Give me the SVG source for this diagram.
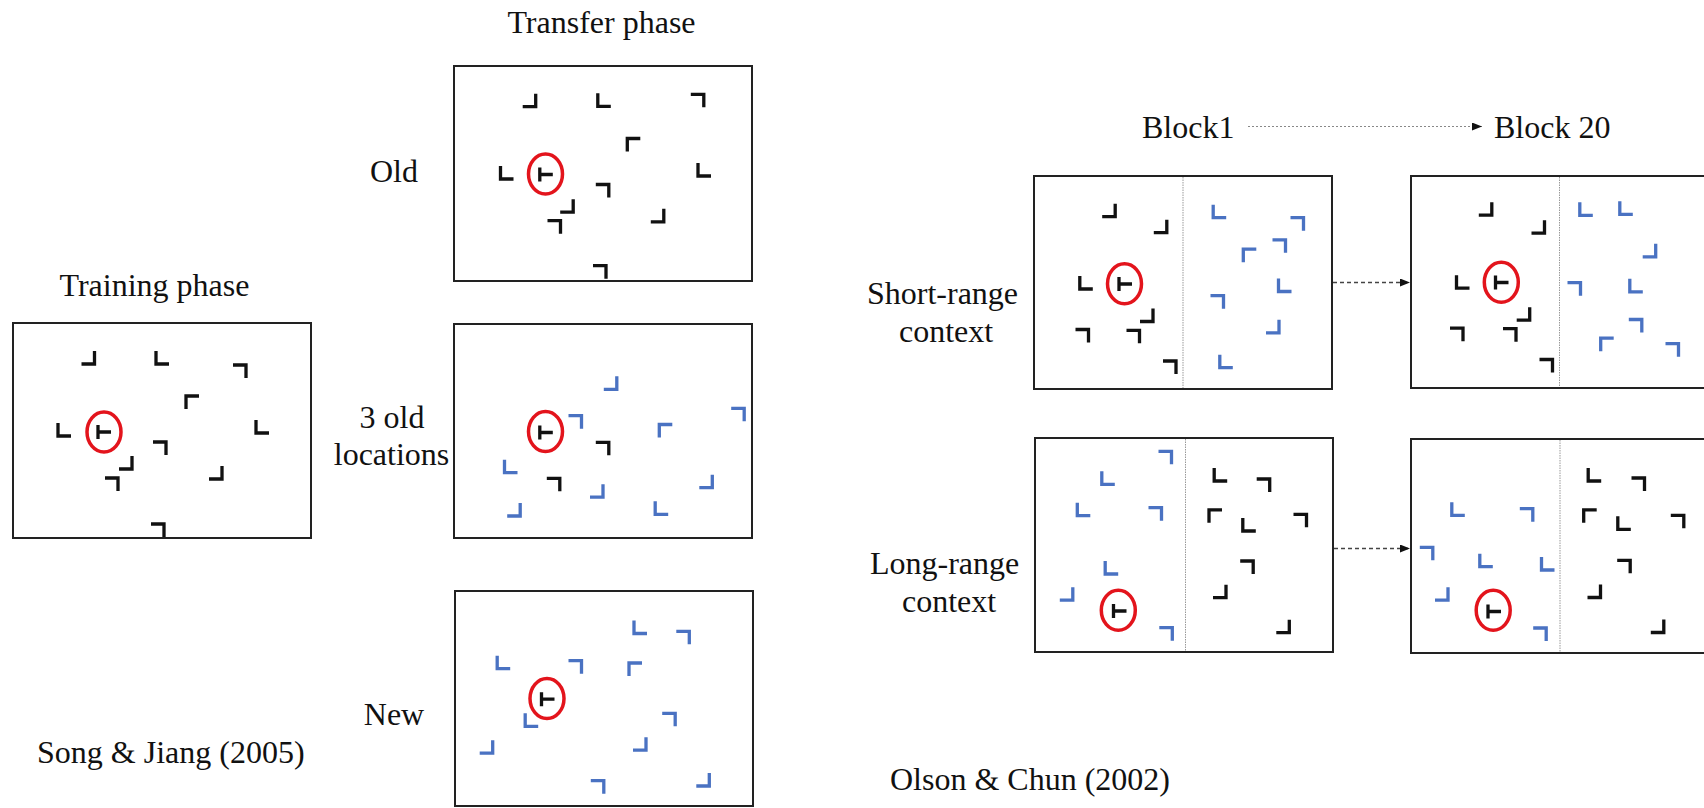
<svg xmlns="http://www.w3.org/2000/svg" xmlns:xlink="http://www.w3.org/1999/xlink" width="1704" height="808" viewBox="0 0 1704 808">
  <style>
    text { font-family: "Liberation Serif", "Times New Roman", serif; font-size: 32px; fill: #111; }
    .box { fill: #fff; stroke: #222; stroke-width: 2; }
    .div { stroke: #999; stroke-width: 1; stroke-dasharray: 1.5 1; }
    .k { stroke: #111; }
    .b { stroke: #4a72c2; }
    .ring { fill: none; stroke: #e3141c; stroke-width: 3.5; }
    .go { fill: none; stroke: #444; stroke-width: 1.4; stroke-dasharray: 4 3; }
    .dots { fill: none; stroke: #888; stroke-width: 1.2; stroke-dasharray: 2 2; }
  </style>
  <defs>
    <!-- rotated L items, centred on (0,0); colour comes from the <use> -->
    <path id="br" d="M-7,6 H6 V-7" fill="none" stroke-width="3.3"/>
    <path id="bl" d="M-6,-7 V6 H7" fill="none" stroke-width="3.3"/>
    <path id="tr" d="M-7,-6 H6 V7" fill="none" stroke-width="3.3"/>
    <path id="tl" d="M7,-6 H-6 V7" fill="none" stroke-width="3.3"/>
    <path id="tee" d="M-6,-7 V7 M-6,0 H7" fill="none" stroke-width="3.3"/>
    <marker id="head" markerUnits="userSpaceOnUse" markerWidth="11" markerHeight="8" refX="10" refY="4" orient="auto">
      <path d="M0,0 L10,4 L0,8 z" fill="#111"/>
    </marker>
  </defs>

  <!-- headings and captions -->
  <g id="labels">
    <text x="154.5" y="296" text-anchor="middle">Training phase</text>
    <text x="601.5" y="33" text-anchor="middle">Transfer phase</text>
    <text x="394" y="182" text-anchor="middle">Old</text>
    <text x="392" y="428" text-anchor="middle">3 old</text>
    <text x="391.5" y="465" text-anchor="middle">locations</text>
    <text x="394" y="725" text-anchor="middle">New</text>
    <text x="37" y="763">Song &amp; Jiang (2005)</text>
    <text x="1142" y="138">Block1</text>
    <text x="1494" y="138">Block 20</text>
    <text x="867" y="304">Short-range</text>
    <text x="899" y="342">context</text>
    <text x="870" y="574">Long-range</text>
    <text x="902" y="612">context</text>
    <text x="1030" y="790" text-anchor="middle">Olson &amp; Chun (2002)</text>
  </g>

  <!-- Song & Jiang: training display -->
  <g id="training">
    <rect class="box" x="13" y="323" width="298" height="215"/>
    <g class="k">
      <use href="#br" x="88.5" y="358"/>
      <use href="#bl" x="162" y="358"/>
      <use href="#tr" x="240" y="371"/>
      <use href="#tl" x="192" y="402"/>
      <use href="#bl" x="64" y="430"/>
      <use href="#tee" x="104" y="432"/>
      <use href="#bl" x="262" y="427"/>
      <use href="#tr" x="160" y="448"/>
      <use href="#br" x="126" y="463"/>
      <use href="#tr" x="112" y="484"/>
      <use href="#br" x="216" y="473"/>
      <use href="#tr" x="158" y="530"/>
    </g>
    <ellipse class="ring" cx="104" cy="432" rx="17" ry="20"/>
  </g>

  <!-- transfer: old configuration -->
  <g id="transfer-old">
    <rect class="box" x="454" y="66" width="298" height="215"/>
    <g class="k">
      <use href="#br" x="529.7" y="100.7"/>
      <use href="#bl" x="603.8" y="100.3"/>
      <use href="#tr" x="697.8" y="100.3"/>
      <use href="#tl" x="633.3" y="144.5"/>
      <use href="#bl" x="506.5" y="173"/>
      <use href="#tee" x="545.8" y="174.5"/>
      <use href="#bl" x="704" y="170"/>
      <use href="#tr" x="602.8" y="190.5"/>
      <use href="#br" x="567.2" y="206.2"/>
      <use href="#tr" x="554.5" y="226.7"/>
      <use href="#br" x="657.8" y="215.8"/>
      <use href="#tr" x="600" y="271.7"/>
    </g>
    <ellipse class="ring" cx="545.5" cy="174" rx="17" ry="20"/>
  </g>

  <!-- transfer: three old locations -->
  <g id="transfer-3old">
    <rect class="box" x="454" y="324" width="298" height="214"/>
    <g class="b">
      <use href="#br" x="610.8" y="383.3"/>
      <use href="#tr" x="575.5" y="421.7"/>
      <use href="#tl" x="665.3" y="430.5"/>
      <use href="#tr" x="738.2" y="414.3"/>
      <use href="#bl" x="510.5" y="466.7"/>
      <use href="#br" x="597" y="491.2"/>
      <use href="#br" x="706.3" y="481.7"/>
      <use href="#br" x="514.2" y="510"/>
      <use href="#bl" x="661.2" y="508.3"/>
    </g>
    <g class="k">
      <use href="#tee" x="545.8" y="432.5"/>
      <use href="#tr" x="602.8" y="448.3"/>
      <use href="#tr" x="553.8" y="484.3"/>
    </g>
    <ellipse class="ring" cx="545.5" cy="431.5" rx="17" ry="20"/>
  </g>

  <!-- transfer: new configuration -->
  <g id="transfer-new">
    <rect class="box" x="455" y="591" width="298" height="215"/>
    <g class="b">
      <use href="#bl" x="640" y="627.5"/>
      <use href="#tr" x="683.3" y="637.3"/>
      <use href="#bl" x="503.2" y="662.7"/>
      <use href="#tr" x="575.5" y="666.7"/>
      <use href="#tl" x="635" y="669"/>
      <use href="#bl" x="531.2" y="720.3"/>
      <use href="#tr" x="669.2" y="719.3"/>
      <use href="#br" x="486.7" y="747.2"/>
      <use href="#br" x="640" y="744.2"/>
      <use href="#tr" x="597.8" y="786.7"/>
      <use href="#br" x="703.3" y="780"/>
    </g>
    <use class="k" href="#tee" x="547.5" y="699.2"/>
    <ellipse class="ring" cx="547" cy="698.5" rx="17" ry="20"/>
  </g>

  <!-- Olson & Chun: short-range, block 1 -->
  <g id="short-block1">
    <rect class="box" x="1034" y="176" width="298" height="213"/>
    <line class="div" x1="1183" y1="177" x2="1183" y2="388"/>
    <g class="k">
      <use href="#br" x="1109.2" y="210.7"/>
      <use href="#br" x="1160.8" y="226.7"/>
      <use href="#bl" x="1085.8" y="283"/>
      <use href="#tee" x="1125" y="284"/>
      <use href="#br" x="1147" y="315.5"/>
      <use href="#tr" x="1082.5" y="335.5"/>
      <use href="#tr" x="1133.5" y="336.3"/>
      <use href="#tr" x="1170" y="367"/>
    </g>
    <g class="b">
      <use href="#bl" x="1219.2" y="211.7"/>
      <use href="#tr" x="1297.5" y="223.7"/>
      <use href="#tr" x="1279.5" y="245.8"/>
      <use href="#tl" x="1249.3" y="255.2"/>
      <use href="#bl" x="1284.5" y="285.5"/>
      <use href="#tr" x="1217.5" y="301.7"/>
      <use href="#br" x="1273" y="326.8"/>
      <use href="#bl" x="1225.8" y="361.7"/>
    </g>
    <ellipse class="ring" cx="1124.5" cy="283.7" rx="17" ry="20"/>
  </g>

  <!-- short-range, block 20 -->
  <g id="short-block20">
    <rect class="box" x="1411" y="176" width="298" height="212"/>
    <line class="div" x1="1559.5" y1="177" x2="1559.5" y2="387"/>
    <g class="k">
      <use href="#br" x="1485.8" y="209.2"/>
      <use href="#br" x="1538.5" y="227.2"/>
      <use href="#bl" x="1462.5" y="282.2"/>
      <use href="#tee" x="1501.5" y="282.5"/>
      <use href="#br" x="1523.7" y="314.2"/>
      <use href="#tr" x="1457" y="334.2"/>
      <use href="#tr" x="1510" y="334.7"/>
      <use href="#tr" x="1546.5" y="365.5"/>
    </g>
    <g class="b">
      <use href="#bl" x="1585.8" y="209.3"/>
      <use href="#bl" x="1625.8" y="208.3"/>
      <use href="#br" x="1649.7" y="250.8"/>
      <use href="#tr" x="1574.5" y="288.7"/>
      <use href="#bl" x="1635.8" y="285.8"/>
      <use href="#tr" x="1635.8" y="325.5"/>
      <use href="#tl" x="1606.7" y="344.2"/>
      <use href="#tr" x="1672.5" y="349.7"/>
    </g>
    <ellipse class="ring" cx="1501.3" cy="282.2" rx="17" ry="20"/>
  </g>

  <!-- long-range, block 1 -->
  <g id="long-block1">
    <rect class="box" x="1035" y="438" width="298" height="214"/>
    <line class="div" x1="1185.5" y1="439" x2="1185.5" y2="651"/>
    <g class="b">
      <use href="#tr" x="1165.5" y="457.3"/>
      <use href="#bl" x="1107.8" y="478.3"/>
      <use href="#bl" x="1083.3" y="509.7"/>
      <use href="#tr" x="1155.5" y="513.7"/>
      <use href="#bl" x="1111.2" y="568"/>
      <use href="#br" x="1066.8" y="594.2"/>
      <use href="#tr" x="1166.3" y="633.7"/>
    </g>
    <g class="k">
      <use href="#tee" x="1119.5" y="611"/>
      <use href="#bl" x="1220.2" y="475"/>
      <use href="#tr" x="1263.7" y="485"/>
      <use href="#tl" x="1215" y="515.8"/>
      <use href="#bl" x="1248.8" y="525"/>
      <use href="#tr" x="1300.5" y="520.3"/>
      <use href="#tr" x="1247.2" y="567"/>
      <use href="#br" x="1220" y="591.7"/>
      <use href="#br" x="1283.3" y="626.7"/>
    </g>
    <ellipse class="ring" cx="1118.3" cy="610.3" rx="17" ry="20"/>
  </g>

  <!-- long-range, block 20 -->
  <g id="long-block20">
    <rect class="box" x="1411" y="439" width="298" height="214"/>
    <line class="div" x1="1560" y1="440" x2="1560" y2="652"/>
    <g class="b">
      <use href="#bl" x="1457.8" y="509.3"/>
      <use href="#tr" x="1526.8" y="514.7"/>
      <use href="#tr" x="1426.8" y="553.3"/>
      <use href="#bl" x="1485.8" y="560.7"/>
      <use href="#bl" x="1547.5" y="564"/>
      <use href="#br" x="1442" y="594.2"/>
      <use href="#tr" x="1540.2" y="634"/>
    </g>
    <g class="k">
      <use href="#tee" x="1494" y="611.5"/>
      <use href="#bl" x="1594.2" y="475"/>
      <use href="#tr" x="1638.5" y="484"/>
      <use href="#tl" x="1589.7" y="515.8"/>
      <use href="#bl" x="1623.8" y="523.3"/>
      <use href="#tr" x="1677.8" y="521.3"/>
      <use href="#tr" x="1624.2" y="566.3"/>
      <use href="#br" x="1594.5" y="591.5"/>
      <use href="#br" x="1657.8" y="626.5"/>
    </g>
    <ellipse class="ring" cx="1493.2" cy="610.3" rx="17" ry="20"/>
  </g>

  <!-- connectors -->
  <g id="connectors">
    <line class="dots" x1="1248" y1="126.5" x2="1482" y2="126.5" marker-end="url(#head)"/>
    <line class="go" x1="1333" y1="282.5" x2="1410" y2="282.5" marker-end="url(#head)"/>
    <line class="go" x1="1334" y1="548.5" x2="1410" y2="548.5" marker-end="url(#head)"/>
  </g>
</svg>
